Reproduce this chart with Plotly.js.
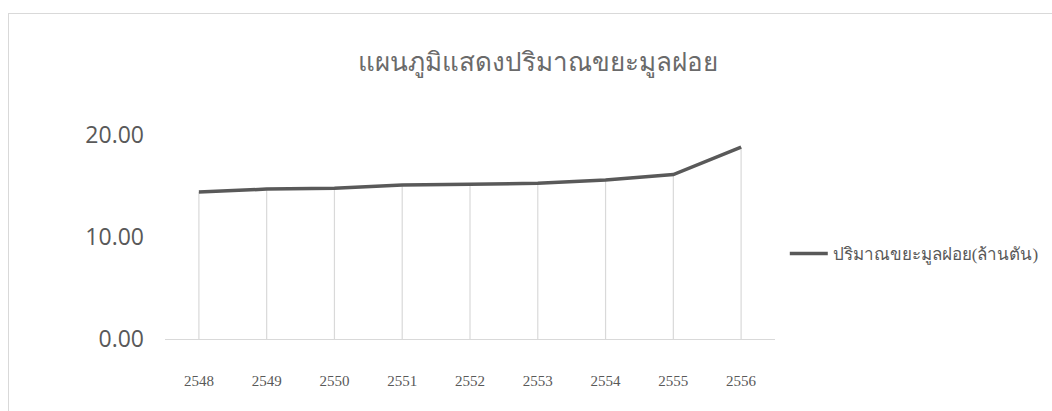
<!DOCTYPE html>
<html>
<head>
<meta charset="utf-8">
<script src="https://cdn.plot.ly/plotly-3.0.1.min.js"></script>
<style>
  html, body { margin: 0; padding: 0; width: 1052px; height: 411px; overflow: hidden; background: #fff; }
  #frame { position: absolute; left: 8px; top: 13px; width: 1100px; height: 460px; border: 1px solid #d9d9d9; box-sizing: border-box; }
  #chart { position: absolute; left: 0; top: 0; width: 1052px; height: 411px; }
</style>
</head>
<body>
<div id="frame"></div>
<div id="chart"></div>
<script>
const years = ['2548', '2549', '2550', '2551', '2552', '2553', '2554', '2555', '2556'];
const waste = [14.40, 14.70, 14.78, 15.10, 15.17, 15.26, 15.58, 16.12, 18.82];
const seriesName = 'ปริมาณขยะมูลฝอย(ล้านตัน)';
const chartTitle = 'แผนภูมิแสดงปริมาณขยะมูลฝอย';
const yTicks = [0, 10, 20];
const yTickLabels = ['0.00', '10.00', '20.00'];

const dropLines = {
  x: years, y: waste, type: 'scatter', mode: 'markers',
  marker: { size: 1, color: 'rgba(0,0,0,0)' },
  error_y: { type: 'data', symmetric: false, array: waste.map(() => 0), arrayminus: waste,
             color: '#d9d9d9', thickness: 1.2, width: 0 },
  showlegend: false, hoverinfo: 'skip'
};
const line = {
  x: years, y: waste, type: 'scatter', mode: 'lines', name: seriesName,
  line: { color: '#595959', width: 3.5 }
};

const layout = {
  width: 1052, height: 411,
  margin: { l: 165, r: 277, t: 135, b: 72 },
  paper_bgcolor: 'rgba(0,0,0,0)', plot_bgcolor: 'rgba(0,0,0,0)',
  title: { text: chartTitle, x: 0.511, xref: 'container', xanchor: 'center',
           y: 0.85, yref: 'container', yanchor: 'middle',
           font: { family: 'Noto Sans, sans-serif', size: 26, color: '#6a6a6a', weight: 300 } },
  xaxis: { type: 'category', range: [-0.5, 8.5], showgrid: false, zeroline: false,
           showline: true, linecolor: '#d9d9d9', linewidth: 1.2, ticks: '',
           ticklabelstandoff: 28,
           tickfont: { family: 'Liberation Serif, serif', size: 15, color: '#595959' } },
  yaxis: { range: [0, 20], tickvals: yTicks, ticktext: yTickLabels, showgrid: false,
           zeroline: false, showline: false, ticks: '', ticklabelstandoff: 20,
           tickfont: { family: 'Open Sans, sans-serif', size: 23, color: '#595959' } },
  legend: { xref: 'container', yref: 'container', x: 0.746, xanchor: 'left',
            y: 0.382, yanchor: 'middle', itemwidth: 38,
            font: { family: 'Liberation Serif, serif', size: 17, color: '#595959' },
            bgcolor: 'rgba(0,0,0,0)' },
  showlegend: true
};

Plotly.newPlot('chart', [dropLines, line], layout, { displayModeBar: false, staticPlot: true });
</script>
</body>
</html>
